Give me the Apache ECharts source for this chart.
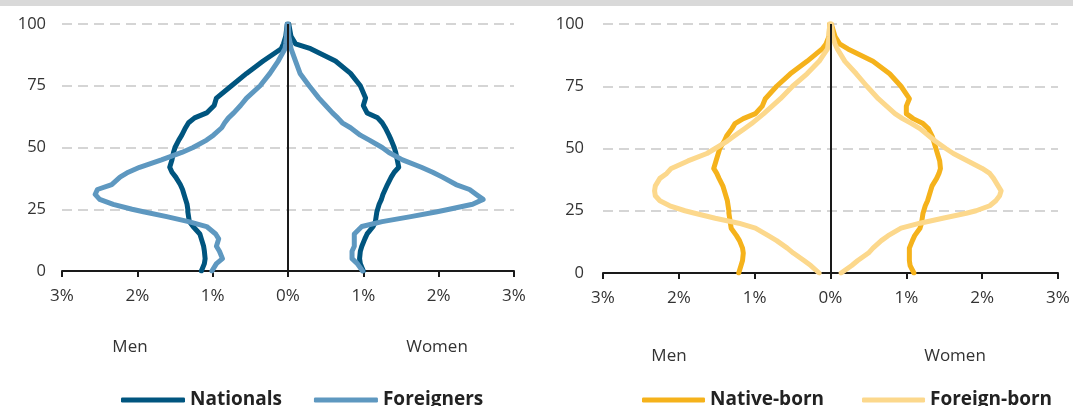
<!DOCTYPE html>
<html>
<head>
<meta charset="utf-8">
<script src="https://cdn.jsdelivr.net/npm/echarts@6/dist/echarts.min.js"></script>
<style>
html,body{margin:0;padding:0;background:#fff;}
#chart{width:1073px;height:406px;}
</style>
</head>
<body>
<div id="chart"></div>
<script>
// Ages (y axis values)
var ages = [0,3,5,8,10,13,15,18,20,22,24,25,27,29,31,33,35,38,40,42,45,48,50,53,55,58,60,62,64,67,70,75,80,85,90,92,95,100];
var yTicks = [0,25,50,75,100];
var xTickLabels = ['3%','2%','1%','0%','1%','2%','3%'];

// Left chart: Nationals vs Foreigners (% of population at each age)
var nationalsMen   = [1.15,1.11,1.10,1.11,1.12,1.15,1.17,1.26,1.31,1.32,1.33,1.33,1.34,1.36,1.38,1.40,1.43,1.49,1.54,1.57,1.54,1.52,1.50,1.45,1.41,1.36,1.32,1.24,1.08,0.98,0.95,0.75,0.55,0.33,0.09,0.06,0.03,0.01];
var nationalsWomen = [1.00,0.96,0.95,0.96,0.98,1.02,1.05,1.13,1.16,1.17,1.18,1.19,1.21,1.24,1.26,1.29,1.32,1.37,1.41,1.47,1.45,1.43,1.41,1.37,1.34,1.29,1.25,1.19,1.05,1.00,1.03,0.96,0.83,0.63,0.30,0.10,0.04,0.01];
var foreignersMen  = [1.01,0.95,0.87,0.91,0.95,0.92,0.96,1.08,1.32,1.61,1.92,2.07,2.32,2.50,2.56,2.53,2.34,2.23,2.12,1.97,1.68,1.41,1.26,1.08,0.99,0.88,0.84,0.79,0.72,0.63,0.55,0.37,0.24,0.13,0.04,0.03,0.02,0.01];
var foreignersWomen= [0.99,0.92,0.85,0.85,0.88,0.88,0.88,0.98,1.25,1.63,1.98,2.14,2.45,2.59,2.50,2.41,2.23,2.05,1.92,1.77,1.52,1.34,1.25,1.08,0.96,0.83,0.72,0.66,0.59,0.50,0.41,0.28,0.16,0.10,0.04,0.03,0.01,0.005];

// Right chart: Native-born vs Foreign-born
var nativeMen      = [1.21,1.18,1.16,1.15,1.16,1.20,1.24,1.31,1.32,1.33,1.34,1.34,1.35,1.36,1.38,1.40,1.42,1.47,1.50,1.54,1.51,1.48,1.46,1.40,1.37,1.30,1.26,1.15,0.99,0.90,0.86,0.71,0.53,0.31,0.11,0.06,0.02,0.01];
var nativeWomen    = [1.10,1.05,1.04,1.04,1.04,1.08,1.11,1.18,1.20,1.21,1.22,1.23,1.25,1.28,1.30,1.32,1.34,1.40,1.43,1.45,1.44,1.41,1.39,1.36,1.34,1.29,1.22,1.09,1.00,1.00,1.04,0.93,0.78,0.56,0.23,0.12,0.06,0.01];
var foreignBornMen = [0.15,0.26,0.35,0.49,0.57,0.71,0.82,0.99,1.21,1.52,1.79,1.92,2.12,2.25,2.31,2.32,2.31,2.25,2.16,2.10,1.88,1.63,1.52,1.36,1.27,1.13,1.04,0.96,0.88,0.77,0.66,0.50,0.31,0.15,0.04,0.03,0.02,0.01];
var foreignBornWomen=[0.14,0.28,0.36,0.50,0.56,0.67,0.76,0.93,1.18,1.48,1.79,1.92,2.10,2.18,2.23,2.25,2.21,2.15,2.10,2.00,1.81,1.62,1.52,1.38,1.30,1.18,1.07,0.95,0.85,0.74,0.63,0.48,0.34,0.19,0.09,0.06,0.03,0.01];

var FONT = '"Open Sans", "Noto Sans", sans-serif';
var C = {nat:'#00557f', for:'#5e98c0', nb:'#f5b21b', fb:'#fcd88c'};

function pts(vals, sign){ return ages.map(function(a,i){ return [sign*vals[i], a]; }); }

function xAxisDef(gi){
  return {
    gridIndex: gi, type:'value', min:-3, max:3, interval:1,
    axisLine:{show:true, onZero:false, lineStyle:{color:'#1a1a1a', width:2}},
    axisTick:{show:true, length:6, lineStyle:{color:'#1a1a1a', width:2}},
    splitLine:{show:false},
    axisLabel:{margin:17, color:'#333', fontSize:17, fontFamily:FONT,
      formatter:function(v){ return xTickLabels[Math.round(v)+3]; }}
  };
}
function yAxisDef(gi, margin){
  return {
    gridIndex: gi, type:'value', min:yTicks[0], max:yTicks[yTicks.length-1], interval:25,
    axisLine:{show:false}, axisTick:{show:false},
    splitLine:{show:true, lineStyle:{color:'#c8c8c8', width:1.5, type:[10,6]}},
    axisLabel:{margin:margin, color:'#333', fontSize:16.5, fontFamily:FONT}
  };
}
function lineSeries(name, color, data, gi){
  return {
    name:name, type:'line', xAxisIndex:gi, yAxisIndex:gi, data:data,
    showSymbol:false, symbol:'none', smooth:false, z:3,
    lineStyle:{color:color, width:5, cap:'round', join:'round'},
    itemStyle:{color:color}
  };
}
function zeroLine(gi){
  return {
    type:'line', xAxisIndex:gi, yAxisIndex:gi, data:[], z:1, silent:true,
    markLine:{silent:true, symbol:['none','none'], label:{show:false},
      lineStyle:{color:'#1a1a1a', width:2, type:'solid'},
      data:[{xAxis:0}]}
  };
}

var chart = echarts.init(document.getElementById('chart'), null, {renderer:'canvas'});
var textStyleLegend = {fontSize:19, fontWeight:'bold', color:'#222', fontFamily:FONT, lineHeight:22};
var option = {
  animation:false,
  backgroundColor:'#fff',
  grid:[
    {left:62, top:24, width:452, height:247},
    {left:603, top:24, width:455, height:249}
  ],
  xAxis:[xAxisDef(0), xAxisDef(1)],
  yAxis:[yAxisDef(0,16), yAxisDef(1,19)],
  legend:[
    {data:['Nationals','Foreigners'], left:121, top:389, itemWidth:64, itemHeight:5, itemGap:32,
     icon:'roundRect', textStyle:textStyleLegend, padding:0},
    {data:['Native-born','Foreign-born'], left:642, top:389, itemWidth:63, itemHeight:5, itemGap:38,
     icon:'roundRect', textStyle:textStyleLegend, padding:0}
  ],
  graphic:[
    {type:'rect', left:0, top:0, shape:{width:1073, height:6}, style:{fill:'#d9d9d9'}},
    {type:'text', x:130, y:347, style:{text:'Men', fill:'#333', font:'17px '+FONT, align:'center', verticalAlign:'middle'}},
    {type:'text', x:437, y:347, style:{text:'Women', fill:'#333', font:'17px '+FONT, align:'center', verticalAlign:'middle'}},
    {type:'text', x:669, y:356, style:{text:'Men', fill:'#333', font:'17px '+FONT, align:'center', verticalAlign:'middle'}},
    {type:'text', x:955, y:356, style:{text:'Women', fill:'#333', font:'17px '+FONT, align:'center', verticalAlign:'middle'}}
  ],
  series:[
    zeroLine(0), zeroLine(1),
    lineSeries('Nationals', C.nat, pts(nationalsMen,-1), 0),
    lineSeries('Nationals', C.nat, pts(nationalsWomen,1), 0),
    lineSeries('Foreigners', C.for, pts(foreignersMen,-1), 0),
    lineSeries('Foreigners', C.for, pts(foreignersWomen,1), 0),
    lineSeries('Native-born', C.nb, pts(nativeMen,-1), 1),
    lineSeries('Native-born', C.nb, pts(nativeWomen,1), 1),
    lineSeries('Foreign-born', C.fb, pts(foreignBornMen,-1), 1),
    lineSeries('Foreign-born', C.fb, pts(foreignBornWomen,1), 1)
  ]
};
chart.setOption(option);
</script>
</body>
</html>
